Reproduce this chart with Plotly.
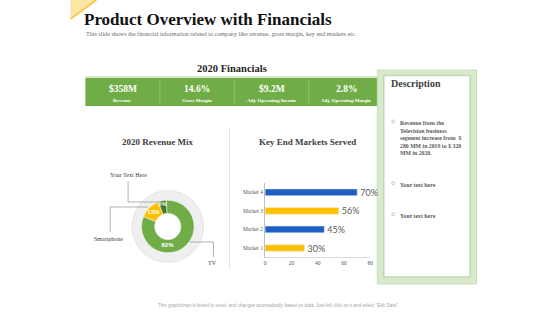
import plotly.graph_objects as go

# ---------------- data ----------------
fin_values = ["$358M", "14.6%", "$9.2M", "2.8%"]
fin_labels = ["Revenue", "Gross Margin", "Adj. Operating Income", "Adj. Operating Margin"]

mix_labels = ["Smartphone", "Your Text Here", "TV"]
mix_values = [13, 5, 82]
mix_colors = ["#FFC000", "#3F7A2A", "#70AD47"]

markets = ["Market 1", "Market 2", "Market 3", "Market 4"]
market_values = [30, 45, 56, 70]
market_colors = ["#FFC000", "#1F5FC4", "#FFC000", "#1F5FC4"]
x_ticks = [0, 20, 40, 60, 80]

desc_items = [
    "Revenue from the<br>Television business<br>segment increase from  $<br>280 MM in 2019 to $ 320<br>MM in 2020.",
    "Your text here",
    "Your text here",
]

W, H = 560, 315
def px(x):
    return x / W
def py(y):
    return 1 - y / H

SERIF = "Liberation Serif"
SANS = "Liberation Sans"

fig = go.Figure()

# ---------------- donut ----------------
cx, cy, r = 168, 226.5, 26.5
fig.add_trace(go.Pie(
    labels=mix_labels, values=mix_values, sort=False, direction="clockwise",
    rotation=-68, hole=0.5,
    marker=dict(colors=mix_colors, line=dict(color="#FFFFFF", width=0.5)),
    texttemplate="<b>%{value}%</b>", textposition="inside", insidetextorientation="horizontal",
    textfont=dict(family=SANS, size=6, color="white"),
    domain=dict(x=[px(cx - r), px(cx + r)], y=[py(cy + r), py(cy - r)]),
    showlegend=False, hoverinfo="label+value",
))

# ---------------- bars ----------------
fig.add_trace(go.Bar(
    y=markets, x=market_values, orientation="h",
    marker=dict(color=market_colors),
    text=[f"{v}%" for v in market_values], textposition="outside",
    constraintext="none",
    textfont=dict(family="Lato", size=9, color="#595959"),
    cliponaxis=False, showlegend=False,
))

fig.update_layout(
    width=W, height=H, margin=dict(l=0, r=0, t=0, b=0),
    paper_bgcolor="white", plot_bgcolor="rgba(0,0,0,0)",
    bargap=0.64,
    uniformtext=dict(minsize=6, mode="show"),
    xaxis=dict(domain=[px(266), px(372)], range=[0, 80], tickvals=x_ticks,
               showgrid=False, zeroline=False, showline=True, linecolor="#D9D9D9",
               linewidth=1, tickfont=dict(family=SERIF, size=5.5, color="#595959"),
               ticks=""),
    yaxis=dict(domain=[py(257.3), py(183)], showgrid=False, zeroline=False,
               showline=True, linecolor="#BFBFBF", linewidth=1,
               tickfont=dict(family=SERIF, size=5.5, color="#595959"), ticks=""),
)

shapes = []
# yellow corner triangle
shapes.append(dict(type="path", xref="paper", yref="paper",
                   path=f"M {px(70)},{py(0)} L {px(96)},{py(0)} L {px(70)},{py(19)} Z",
                   fillcolor="#FCE6A4", line=dict(width=0), layer="below"))
shapes.append(dict(type="line", xref="paper", yref="paper",
                   x0=px(96), y0=py(0), x1=px(70), y1=py(19),
                   line=dict(color="#F6C94E", width=2), layer="below"))
# green financial band
shapes.append(dict(type="rect", xref="paper", yref="paper",
                   x0=px(85), x1=px(386), y0=py(106), y1=py(78),
                   fillcolor="#70AD47", line=dict(width=0), layer="below"))
shapes.append(dict(type="rect", xref="paper", yref="paper",
                   x0=px(85), x1=px(386), y0=py(78), y1=py(76),
                   fillcolor="#D4E6C6", line=dict(width=0), layer="below"))
for xd in [160, 235, 310]:
    shapes.append(dict(type="line", xref="paper", yref="paper",
                       x0=px(xd), x1=px(xd), y0=py(104), y1=py(80),
                       line=dict(color="#A9CF8E", width=0.6), layer="below"))
# description box
shapes.append(dict(type="rect", xref="paper", yref="paper",
                   x0=px(379), x1=px(479), y0=py(284), y1=py(70),
                   fillcolor="#D8EACC", line=dict(color="#C9DDBB", width=1), layer="below"))
shapes.append(dict(type="rect", xref="paper", yref="paper",
                   x0=px(385.5), x1=px(472.5), y0=py(277), y1=py(75.5),
                   fillcolor="#FFFFFF", line=dict(color="#BFD9AE", width=1.5), layer="below"))
# vertical separator
shapes.append(dict(type="line", xref="paper", yref="paper",
                   x0=px(230), x1=px(230), y0=py(270), y1=py(127),
                   line=dict(color="#E3E3E3", width=1), layer="below"))
# donut background ring
shapes.append(dict(type="circle", xref="paper", yref="paper",
                   x0=px(cx - 36), x1=px(cx + 36), y0=py(cy + 36), y1=py(cy - 36),
                   fillcolor="#EFEFEF", line=dict(color="#E0E0E0", width=0.8), layer="below"))
shapes.append(dict(type="circle", xref="paper", yref="paper",
                   x0=px(cx - 13.3), x1=px(cx + 13.3), y0=py(cy + 13.3), y1=py(cy - 13.3),
                   fillcolor="#FFFFFF", line=dict(color="#E3E3E3", width=0.8), layer="below"))
# leader lines
lead = "#7F7F7F"
def seg(x0, y0, x1, y1):
    shapes.append(dict(type="line", xref="paper", yref="paper",
                       x0=px(x0), y0=py(y0), x1=px(x1), y1=py(y1),
                       line=dict(color=lead, width=0.6)))
seg(128, 181, 128, 202)
seg(128, 202, 162, 202)
seg(110, 207, 148, 207)
seg(110, 207, 110, 232)
seg(190, 242, 214, 242)
seg(214, 242, 214, 257)
# bullets
for yb in [121.5, 183.3, 214.3]:
    shapes.append(dict(type="circle", xref="paper", yref="paper",
                       x0=px(393.5), x1=px(396.5), y0=py(yb + 1.5), y1=py(yb - 1.5),
                       line=dict(color="#A6A6A6", width=0.6), fillcolor="white"))
fig.update_layout(shapes=shapes)

ann = []
def text(x, y, s, size, color="#262626", family=SERIF, xanchor="center", yanchor="middle", align="center"):
    ann.append(dict(x=px(x), y=py(y), xref="paper", yref="paper", text=s, showarrow=False,
                    xanchor=xanchor, yanchor=yanchor, align=align,
                    font=dict(family=family, size=size, color=color)))

text(82, 19.5, "<b>Product Overview with Financials</b>", 17, "#111111", xanchor="left")
text(84, 34, "This slide shows the financial information related to company like revenue, gross margin, key end markets etc.",
     6.1, "#6B6B6B", xanchor="left")
text(233, 68.5, "<b>2020 Financials</b>", 10.5, "#262626")
centers = [122.5, 197.5, 272.5, 347.5]
for c, v, l in zip(centers, fin_values, fin_labels):
    text(c, 88.5, f"<b>{v}</b>", 9.5, "white")
    text(c, 100.5, f"<b>{l}</b>", 5, "white")
text(158, 141.5, "<b>2020 Revenue Mix</b>", 9, "#404040")
text(309, 141.5, "<b>Key End Markets Served</b>", 9, "#404040")
text(128, 174.5, mix_labels[1], 6, "#404040")
text(108, 238.5, mix_labels[0], 6, "#404040")
text(213.5, 263, mix_labels[2], 6, "#404040")
text(391, 83.5, "<b>Description</b>", 10, "#404040", xanchor="left")
desc_y = [121.5, 183.3, 214.3]
for yb, s in zip(desc_y, desc_items):
    ann.append(dict(x=px(400), y=py(yb - 3.2), xref="paper", yref="paper", text=f"<b>{s}</b>",
                    showarrow=False, xanchor="left", yanchor="top", align="left",
                    font=dict(family=SERIF, size=5.8, color="#595959")))
text(279, 305.5, "This graph/chart is linked to excel, and changes automatically based on data. Just left click on it and select \"Edit Data\".",
     4.6, "#A6A6A6", family=SANS)
fig.update_layout(annotations=ann)

fig.write_html("out.html")
